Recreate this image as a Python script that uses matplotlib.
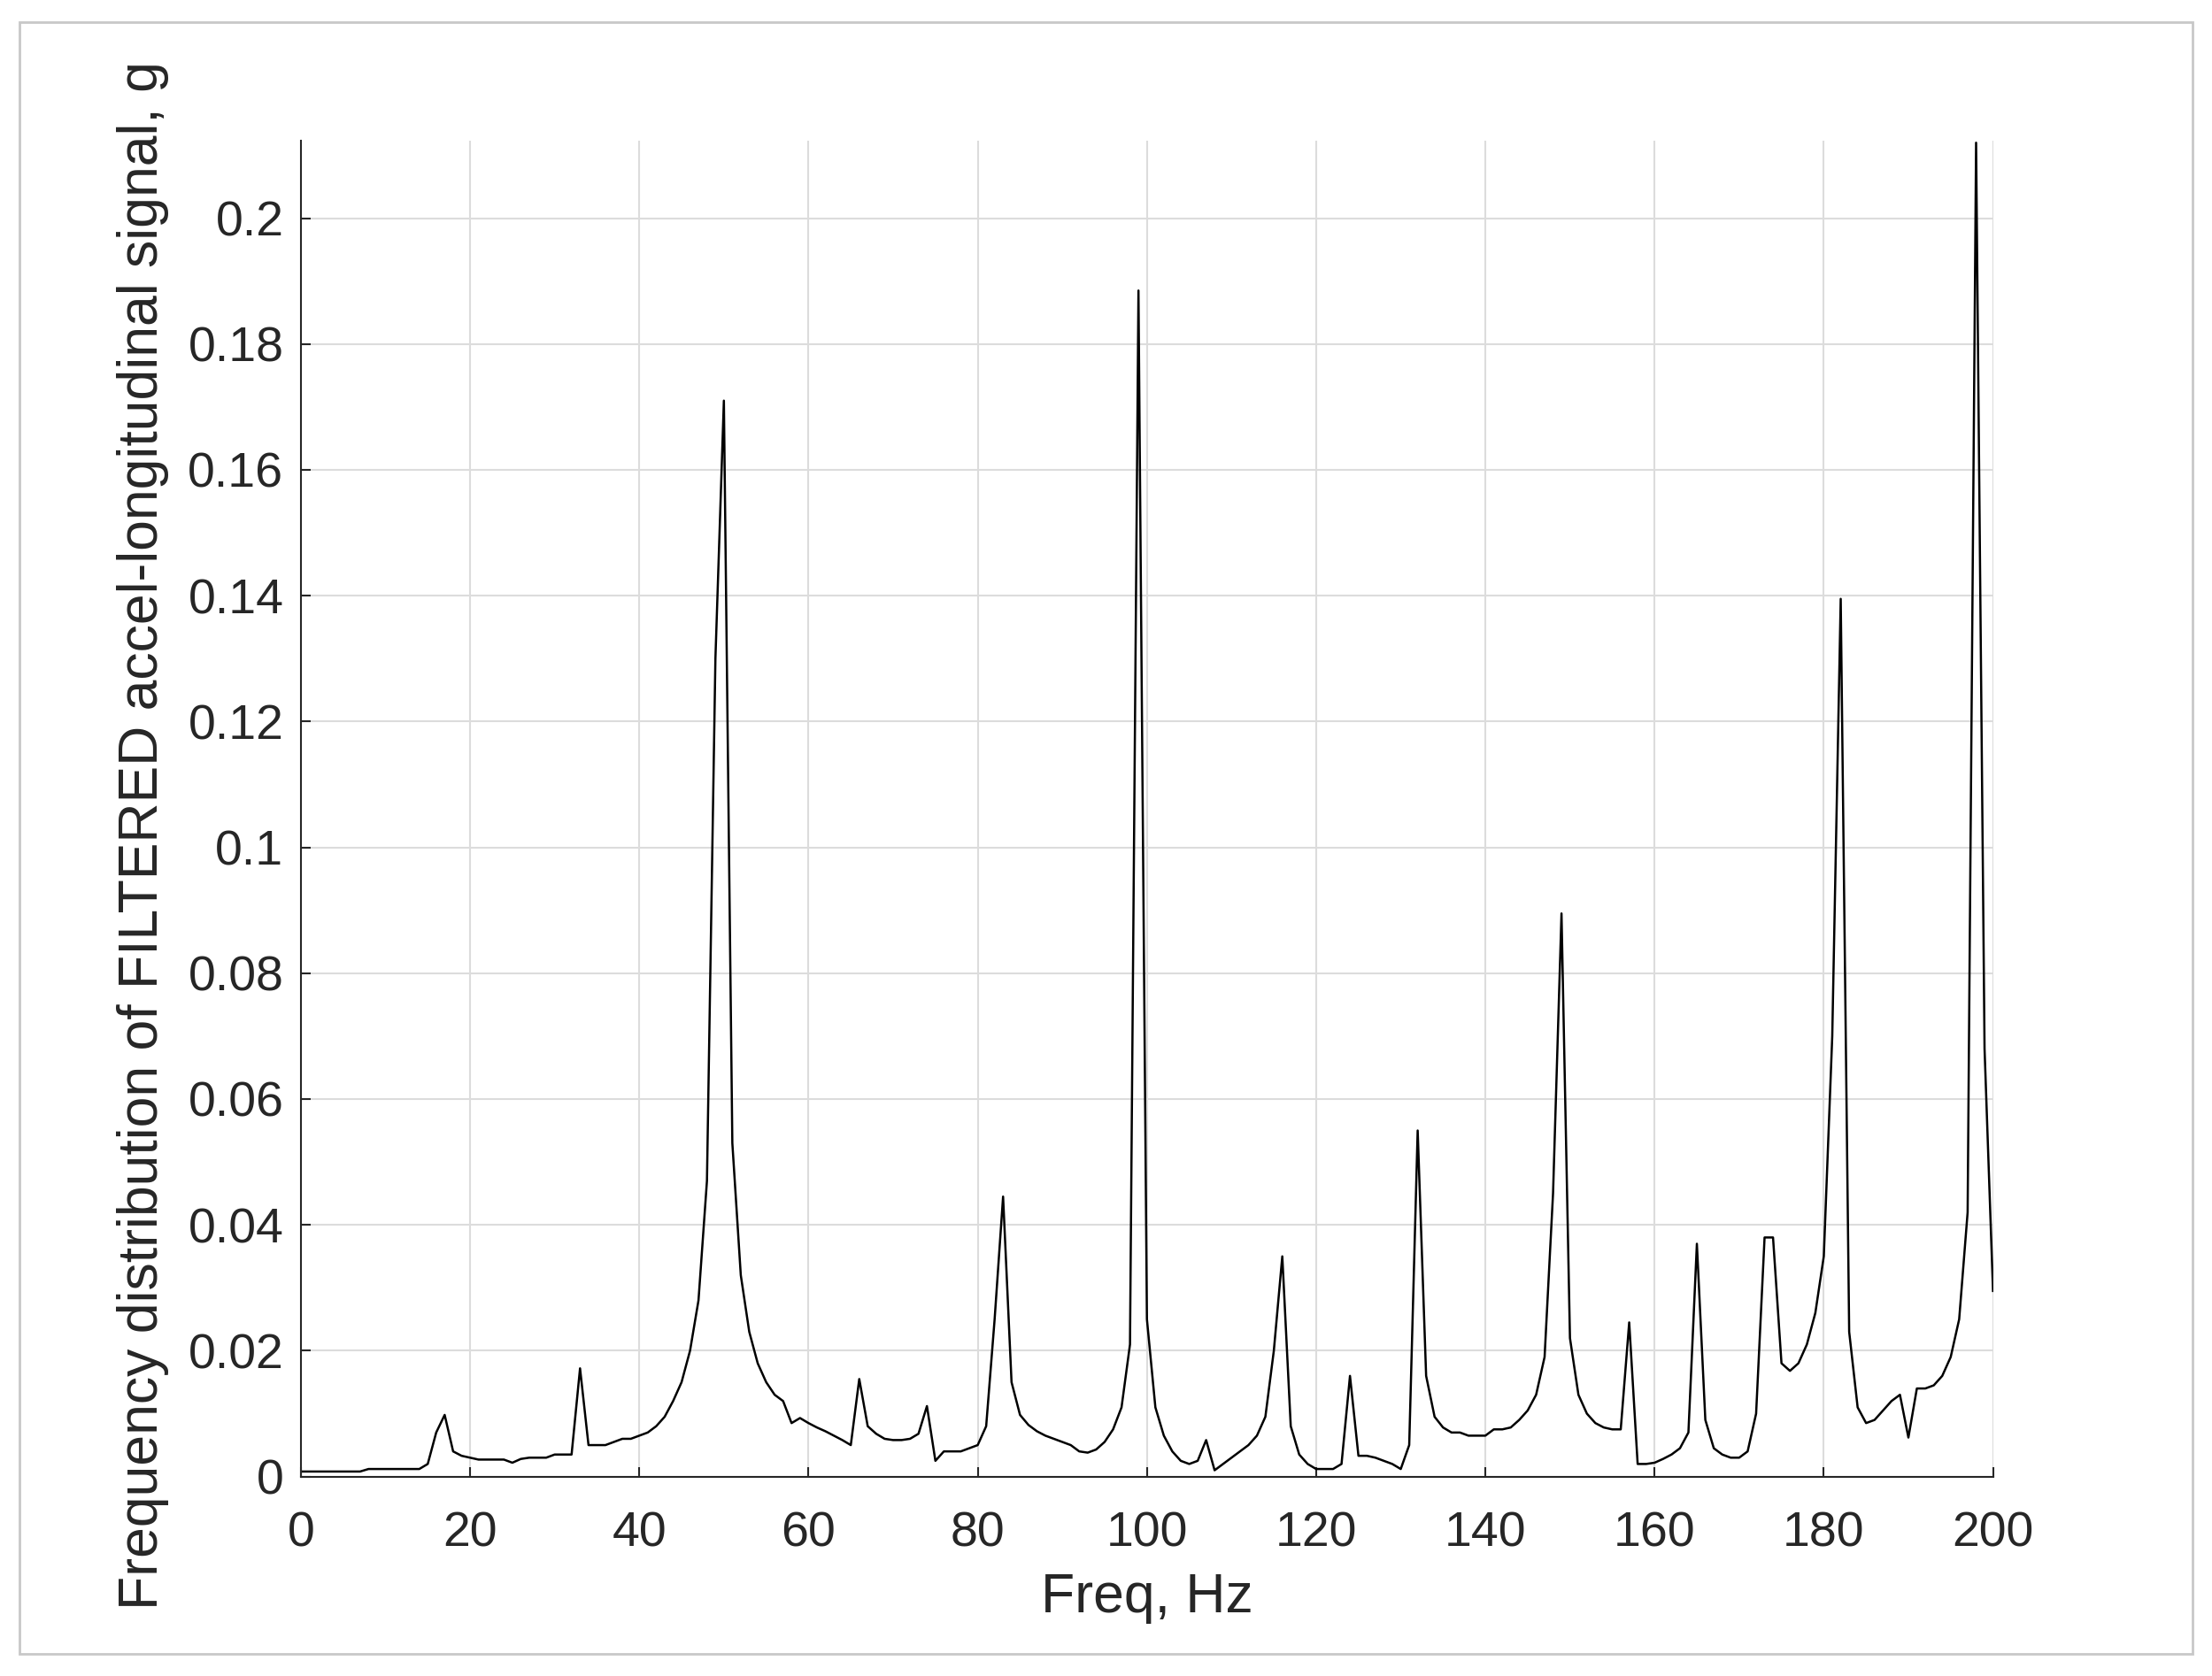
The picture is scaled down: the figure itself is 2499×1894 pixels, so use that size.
import numpy as np
import matplotlib.pyplot as plt
from matplotlib.patches import Rectangle

plt.rcParams['font.family'] = ['Liberation Sans', 'DejaVu Sans']

freq = np.arange(0, 201)
amp = [0.0008]*8 + [0.0012]*7 + [
    0.002, 0.007, 0.0098, 0.004, 0.0033,                      # 15-19
    0.003, 0.0027, 0.0027, 0.0027, 0.0027,                    # 20-24
    0.0022, 0.0028, 0.003, 0.003, 0.003,                      # 25-29
    0.0035, 0.0035, 0.0035, 0.0172, 0.005,                    # 30-34
    0.005, 0.005, 0.0055, 0.006, 0.006,                       # 35-39
    0.0065, 0.007, 0.008, 0.0095, 0.012,                      # 40-44
    0.015, 0.02, 0.028, 0.047, 0.13,                          # 45-49
    0.171, 0.053, 0.032, 0.023, 0.018,                        # 50-54
    0.015, 0.013, 0.012, 0.0085, 0.0093,                      # 55-59
    0.0085, 0.0078, 0.0072, 0.0065, 0.0058,                   # 60-64
    0.005, 0.0155, 0.008, 0.0068, 0.006,                      # 65-69
    0.0058, 0.0058, 0.006, 0.0068, 0.0112,                    # 70-74
    0.0025, 0.004, 0.004, 0.004, 0.0045,                      # 75-79
    0.005, 0.008, 0.025, 0.0445, 0.015,                       # 80-84
    0.0098, 0.0082, 0.0072, 0.0065, 0.006,                    # 85-89
    0.0055, 0.005, 0.004, 0.0038, 0.0043,                     # 90-94
    0.0055, 0.0075, 0.011, 0.021, 0.1885,                     # 95-99
    0.025, 0.011, 0.0065, 0.004, 0.0025,                      # 100-104
    0.002, 0.0025, 0.0058, 0.001, 0.002,                      # 105-109
    0.003, 0.004, 0.005, 0.0065, 0.0095,                      # 110-114
    0.02, 0.035, 0.008, 0.0035, 0.002,                        # 115-119
    0.0012, 0.0012, 0.0012, 0.002, 0.016,                     # 120-124
    0.0033, 0.0033, 0.003, 0.0025, 0.002,                     # 125-129
    0.0012, 0.005, 0.055, 0.016, 0.0095,                      # 130-134
    0.0078, 0.007, 0.007, 0.0065, 0.0065,                     # 135-139
    0.0065, 0.0075, 0.0075, 0.0078, 0.009,                    # 140-144
    0.0105, 0.013, 0.019, 0.045, 0.0895,                      # 145-149
    0.022, 0.013, 0.01, 0.0085, 0.0078,                       # 150-154
    0.0075, 0.0075, 0.0245, 0.002, 0.002,                     # 155-159
    0.0022, 0.0028, 0.0035, 0.0045, 0.007,                    # 160-164
    0.037, 0.009, 0.0045, 0.0035, 0.003,                      # 165-169
    0.003, 0.004, 0.01, 0.038, 0.038,                         # 170-174
    0.018, 0.0168, 0.018, 0.021, 0.026,                       # 175-179
    0.035, 0.07, 0.1395, 0.023, 0.011,                        # 180-184
    0.0085, 0.009, 0.0105, 0.012, 0.013,                      # 185-189
    0.0062, 0.014, 0.014, 0.0145, 0.016,                      # 190-194
    0.019, 0.025, 0.042, 0.212, 0.068,                        # 195-199
    0.0295,                                                   # 200
]

fig = plt.figure(figsize=(24.99, 18.94), dpi=100)
fig.patches.append(Rectangle((0.009, 0.013), 0.982, 0.974, transform=fig.transFigure,
                             fill=False, edgecolor='#c8c8c8', linewidth=2))
ax = fig.add_axes([0.136, 0.119, 0.765, 0.797])
ax.plot(freq, amp, color='black', linewidth=1.8)
ax.set_xlim(0, 200)
ax.set_ylim(0, 0.2123)
ax.set_xticks(np.arange(0, 201, 20))
ax.set_yticks(np.arange(0, 0.201, 0.02))
ax.set_yticklabels(['0', '0.02', '0.04', '0.06', '0.08', '0.1', '0.12', '0.14',
                    '0.16', '0.18', '0.2'])
ax.grid(True, color='#dcdcdc', linewidth=1.5)
ax.set_axisbelow(True)
for s in ['top', 'right']:
    ax.spines[s].set_visible(False)
for s in ['left', 'bottom']:
    ax.spines[s].set_color('#262626')
    ax.spines[s].set_linewidth(1.5)
ax.tick_params(labelsize=40, colors='#262626', direction='in', length=8, width=1.5)
ax.tick_params(axis='x', pad=28)
ax.tick_params(axis='y', pad=14)
ax.set_xlabel('Freq, Hz', fontsize=45, color='#262626', labelpad=12)
ax.set_ylabel('Frequency distribution of FILTERED accel-longitudinal signal, g',
              fontsize=45, color='#262626')
ax.yaxis.set_label_coords(-0.078, 0.48)
fig.savefig('out.png')
